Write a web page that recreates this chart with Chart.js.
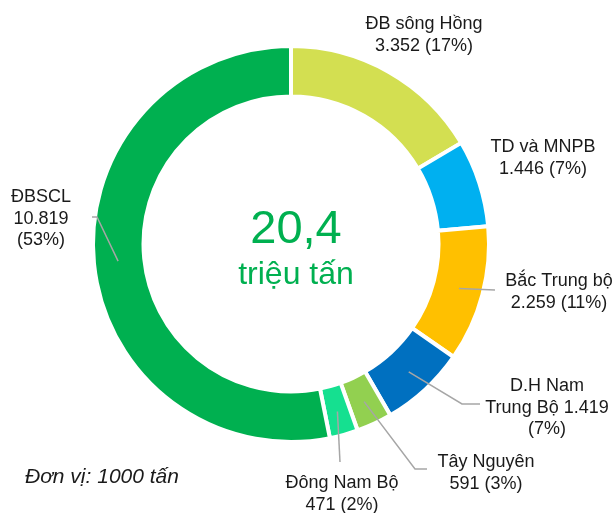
<!DOCTYPE html>
<html>
<head>
<meta charset="utf-8">
<script src="https://cdn.jsdelivr.net/npm/chart.js@4"></script>
<style>
  body { margin: 0; background: #fff; }
  canvas { display: block; }
</style>
</head>
<body>
<canvas id="rice" width="615" height="513"></canvas>
<script>
// san luong theo vung, don vi 1000 tan
const regions = ['ĐB sông Hồng', 'TD và MNPB', 'Bắc Trung bộ', 'D.H Nam\nTrung Bộ', 'Tây Nguyên', 'Đông Nam Bộ', 'ĐBSCL'];
const outputs = [3352, 1446, 2259, 1419, 591, 471, 10819];
const shares = [17, 7, 11, 7, 3, 2, 53];
const colors = ['#d3df51', '#00b0f0', '#ffc000', '#0070c0', '#92d050', '#15e090', '#00b050'];
const totalText = '20,4';
const totalUnit = 'triệu tấn';
const unitNote = 'Đơn vị: 1000 tấn';

// where each label sits: x centre, first baseline, how value/percent wrap, leader points
const labelPos = [
  { x: 424, y: 29, mode: 'pair', leader: null },
  { x: 543, y: 152, mode: 'pair', leader: null },
  { x: 559, y: 286, mode: 'pair', leader: [[495, 290]] },
  { x: 547, y: 391, mode: 'inline', leader: [[462, 404], [480, 404]] },
  { x: 486, y: 467, mode: 'pair', leader: [[415, 469], [427, 469]] },
  { x: 342, y: 488, mode: 'pair', leader: [[340, 462]] },
  { x: 41, y: 202, mode: 'stack', leader: [[97, 217], [92, 217]] }
];

function fmt(v) {
  return v.toString().replace(/\B(?=(\d{3})+(?!\d))/g, '.');
}

function labelLines(i) {
  const name = regions[i].split('\n');
  const val = fmt(outputs[i]);
  const pct = '(' + shares[i] + '%)';
  const mode = labelPos[i].mode;
  if (mode === 'stack') return name.concat([val, pct]);
  if (mode === 'inline') {
    const lines = name.slice();
    lines[lines.length - 1] += ' ' + val;
    lines.push(pct);
    return lines;
  }
  return name.concat([val + ' ' + pct]);
}

const FONT = '"Liberation Sans", Arial, sans-serif';

const labelsPlugin = {
  id: 'regionLabels',
  afterDraw(chart) {
    const ctx = chart.ctx;
    const meta = chart.getDatasetMeta(0);
    ctx.save();

    // leader lines
    ctx.strokeStyle = '#a6a6a6';
    ctx.lineWidth = 1.5;
    meta.data.forEach((arc, i) => {
      const lp = labelPos[i];
      if (!lp.leader) return;
      const p = arc.getProps(['x', 'y', 'startAngle', 'endAngle', 'innerRadius', 'outerRadius'], true);
      const a = (p.startAngle + p.endAngle) / 2;
      const r = (p.innerRadius + p.outerRadius) / 2 + 1;
      ctx.beginPath();
      ctx.moveTo(p.x + Math.cos(a) * r, p.y + Math.sin(a) * r);
      lp.leader.forEach(pt => ctx.lineTo(pt[0], pt[1]));
      ctx.stroke();
    });

    // region labels
    ctx.fillStyle = '#1a1a1a';
    ctx.font = '18px ' + FONT;
    ctx.textAlign = 'center';
    ctx.textBaseline = 'alphabetic';
    meta.data.forEach((arc, i) => {
      const lp = labelPos[i];
      labelLines(i).forEach((t, k) => ctx.fillText(t, lp.x, lp.y + k * 21.5));
    });

    // total in the hole
    ctx.fillStyle = '#00b050';
    ctx.font = '47px ' + FONT;
    ctx.fillText(totalText, 296, 243);
    ctx.font = '32px ' + FONT;
    ctx.fillText(totalUnit, 296, 284);

    // unit note
    ctx.fillStyle = '#1a1a1a';
    ctx.font = 'italic 21px ' + FONT;
    ctx.textAlign = 'left';
    ctx.fillText(unitNote, 25, 483);
    ctx.restore();
  }
};

new Chart(document.getElementById('rice'), {
  type: 'doughnut',
  data: {
    labels: regions,
    datasets: [{
      data: outputs,
      backgroundColor: colors,
      borderColor: '#ffffff',
      borderWidth: 4
    }]
  },
  options: {
    responsive: false,
    animation: false,
    cutout: '74.5%',
    layout: { padding: { left: 91, top: 44, right: 124, bottom: 69 } },
    plugins: {
      legend: { display: false },
      tooltip: { enabled: false }
    }
  },
  plugins: [labelsPlugin]
});
</script>
</body>
</html>
